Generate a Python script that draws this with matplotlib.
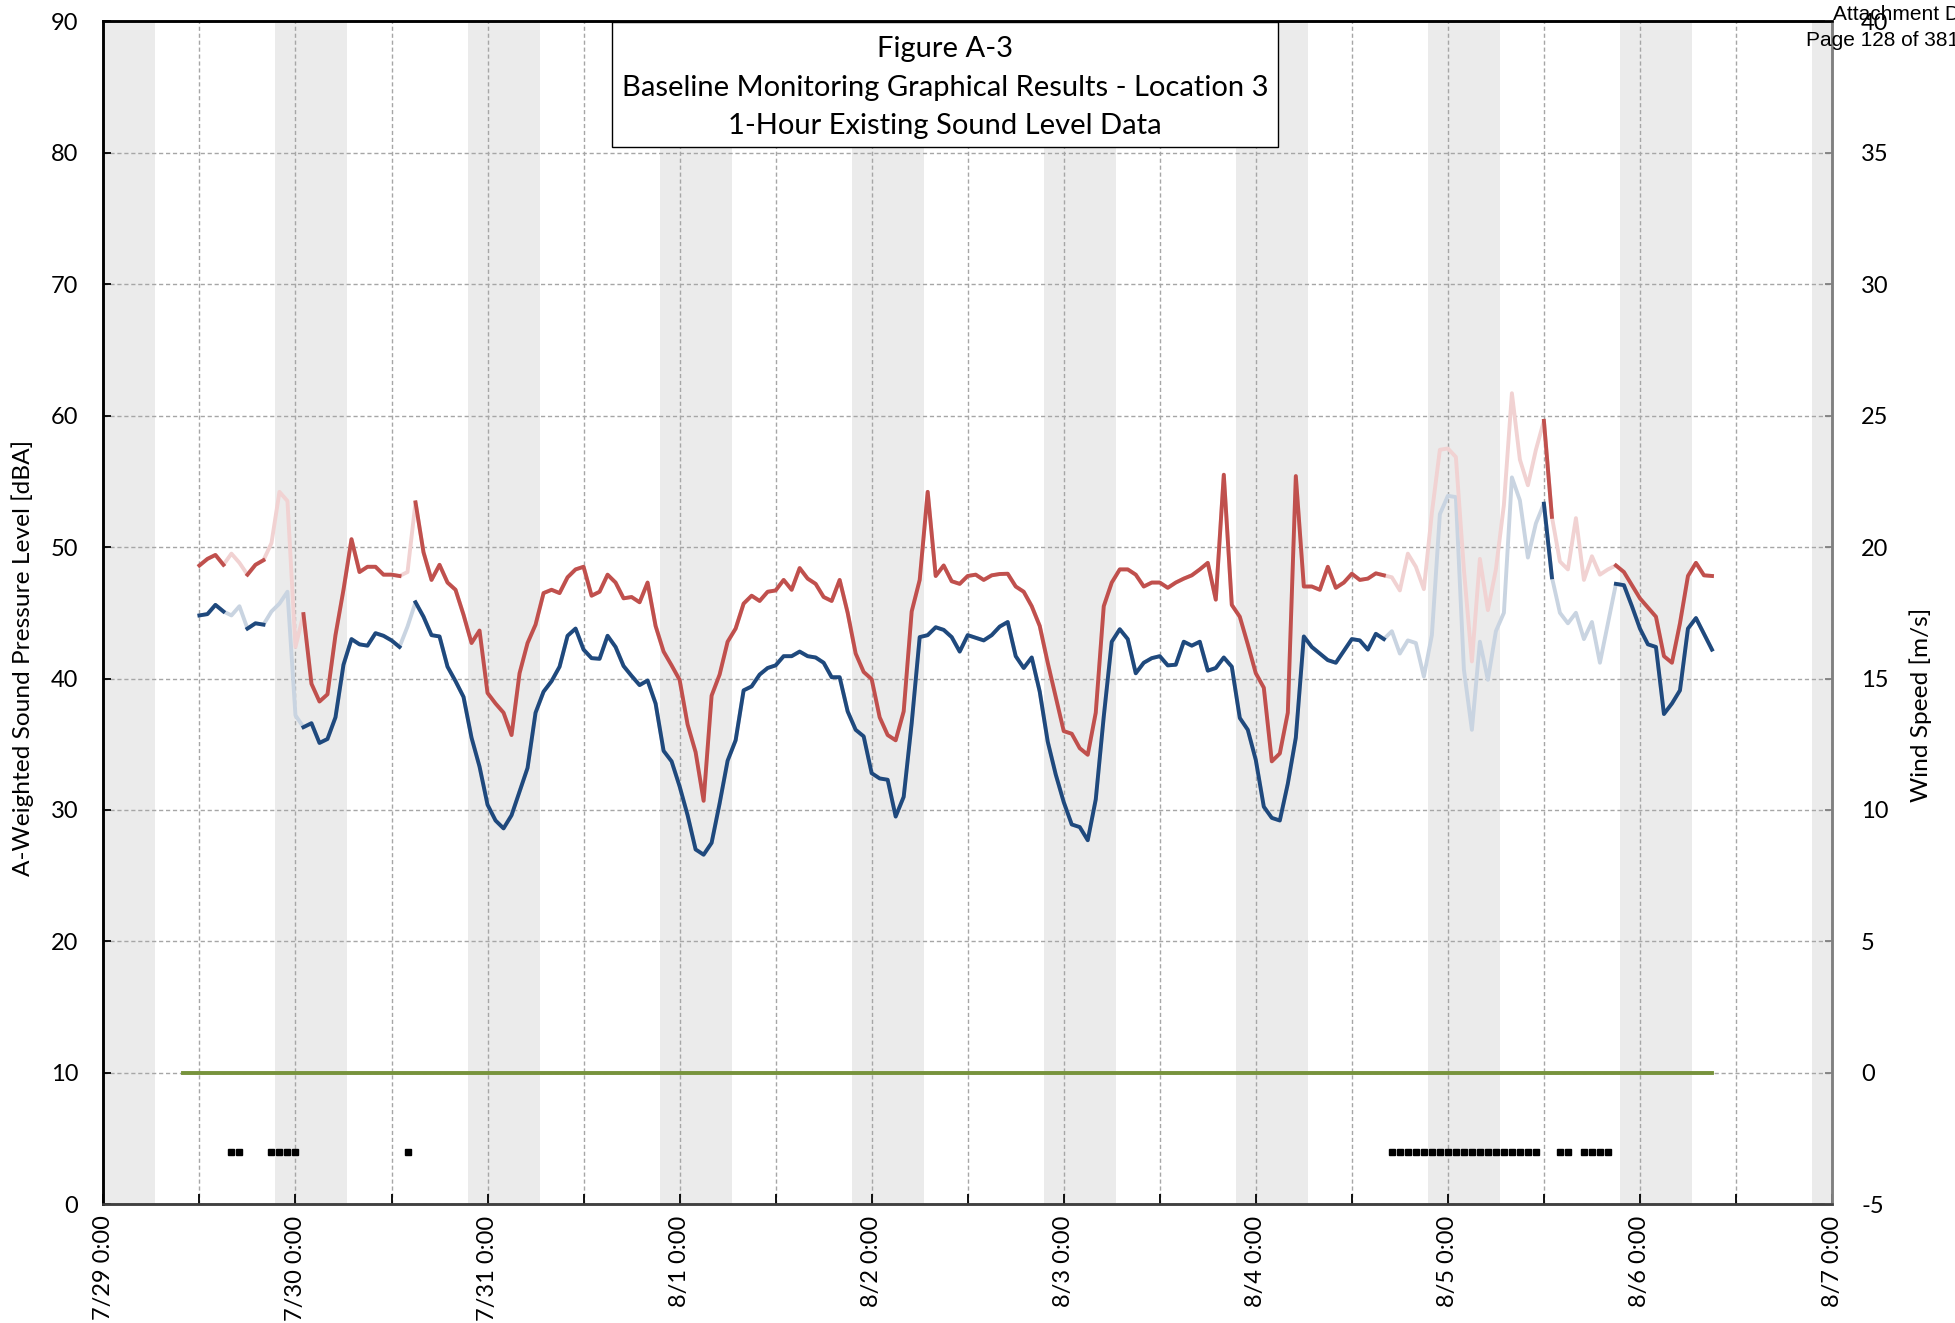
"""
Baseline monitoring - Location 3
1-hour sound levels (Leq / L90) with wind speed, night shading and flagged hours
"""

import numpy as np
import pandas as pd
import matplotlib
matplotlib.use('Agg')
from matplotlib import pyplot as plt
import matplotlib.dates as mdates
from matplotlib.patches import Rectangle
from matplotlib.ticker import FuncFormatter

plt.rcParams['font.family'] = ['Lato', 'DejaVu Sans']
plt.rcParams['axes.unicode_minus'] = False

# ---- data ----
T0 = pd.Timestamp('2019-07-29 00:00')
T_END = pd.Timestamp('2019-08-07 00:00')
SOUND_START = '2019-07-29 12:00'
WIND_START = '2019-07-29 10:00'

# Leq, hourly from 7/29 12:00
leq = [48.6, 49.1, 49.4, 48.65, 49.5, 48.8, 47.9, 48.65, 49.0, 50.3,
       54.2, 53.5, 42.4, 44.9, 39.6, 38.25, 38.8, 43.3, 46.75, 50.6,
       48.1, 48.5, 48.5, 47.9, 47.9, 47.8, 48.1, 53.4, 49.6, 47.5,
       48.65, 47.3, 46.75, 44.85, 42.7, 43.65, 38.9, 38.1, 37.4, 35.7,
       40.4, 42.7, 44.1, 46.5, 46.75, 46.5, 47.7, 48.3, 48.5, 46.3,
       46.6, 47.9, 47.3, 46.1, 46.2, 45.8, 47.3, 44.0, 42.05, 41.0,
       39.9, 36.5, 34.4, 30.7, 38.7, 40.3, 42.8, 43.8, 45.7, 46.3,
       45.9, 46.6, 46.7, 47.5, 46.75, 48.4, 47.6, 47.2, 46.2, 45.9,
       47.5, 45.0, 41.9, 40.5, 39.95, 37.05, 35.7, 35.3, 37.5, 45.1,
       47.5, 54.2, 47.8, 48.6, 47.4, 47.2, 47.8, 47.9, 47.5, 47.85,
       47.95, 47.97, 47.0, 46.6, 45.5, 44.0, 41.2, 38.6, 36.0, 35.8,
       34.7, 34.2, 37.4, 45.5, 47.3, 48.3, 48.3, 47.9, 47.0, 47.3,
       47.3, 46.9, 47.3, 47.6, 47.85, 48.3, 48.8, 46.0, 55.5, 45.6,
       44.7, 42.6, 40.4, 39.3, 33.7, 34.3, 37.4, 55.4, 47.0, 47.0,
       46.75, 48.5, 46.9, 47.3, 47.97, 47.5, 47.6, 48.0, 47.85, 47.7,
       46.7, 49.5, 48.5, 46.8, 52.6, 57.4, 57.5, 56.85, 48.3, 41.3,
       49.1, 45.2, 48.3, 53.2, 61.7, 56.65, 54.7, 57.4, 59.6, 52.3,
       48.9, 48.3, 52.2, 47.5, 49.3, 47.9, 48.3, 48.6, 48.1, 47.1,
       46.1, 45.4, 44.7, 41.7, 41.2, 44.2, 47.8, 48.8, 47.85, 47.8]

# L90, hourly from 7/29 12:00
l90 = [44.8, 44.9, 45.6, 45.1, 44.8, 45.5, 43.8, 44.2, 44.1, 45.1,
       45.7, 46.6, 37.2, 36.3, 36.6, 35.1, 35.4, 37.05, 41.05, 43.0,
       42.6, 42.5, 43.45, 43.25, 42.9, 42.4, 43.95, 45.8, 44.7, 43.3,
       43.2, 40.9, 39.8, 38.6, 35.5, 33.3, 30.4, 29.2, 28.6, 29.6,
       31.4, 33.2, 37.4, 39.0, 39.8, 40.9, 43.25, 43.8, 42.2, 41.55,
       41.5, 43.25, 42.4, 40.95, 40.2, 39.5, 39.85, 38.1, 34.5, 33.7,
       31.8, 29.6, 27.0, 26.6, 27.5, 30.5, 33.75, 35.3, 39.1, 39.4,
       40.3, 40.8, 41.0, 41.7, 41.7, 42.05, 41.7, 41.6, 41.2, 40.1,
       40.1, 37.5, 36.1, 35.6, 32.8, 32.4, 32.3, 29.5, 31.0, 36.6,
       43.15, 43.3, 43.9, 43.7, 43.15, 42.05, 43.3, 43.1, 42.9, 43.3,
       43.95, 44.3, 41.7, 40.8, 41.6, 39.0, 35.2, 32.7, 30.6, 28.9,
       28.7, 27.7, 30.8, 37.1, 42.8, 43.75, 43.0, 40.4, 41.2, 41.55,
       41.7, 41.0, 41.05, 42.8, 42.5, 42.8, 40.6, 40.8, 41.6, 40.9,
       37.0, 36.1, 33.8, 30.25, 29.4, 29.2, 32.0, 35.5, 43.2, 42.4,
       41.9, 41.4, 41.2, 42.1, 43.0, 42.9, 42.2, 43.4, 43.0, 43.6,
       41.9, 42.9, 42.7, 40.15, 43.3, 52.5, 53.9, 53.8, 40.7, 36.1,
       42.8, 39.9, 43.6, 45.0, 55.3, 53.55, 49.2, 51.8, 53.3, 47.7,
       45.0, 44.2, 45.0, 43.0, 44.3, 41.2, 44.2, 47.2, 47.1, 45.5,
       43.8, 42.6, 42.4, 37.3, 38.1, 39.1, 43.8, 44.6, 43.4, 42.2]

# wind speed [m/s], hourly from 7/29 10:00
wind = [0.0] * 192

# flagged (excluded) hours, counted from 7/29 0:00
flag_hours = [16, 17, 21, 22, 23, 24, 38,
              161, 162, 163, 164, 165, 166, 167, 168, 169, 170,
              171, 172, 173, 174, 175, 176, 177, 178, 179,
              182, 183, 185, 186, 187, 188]
flag_level = 4

title_lines = ['Figure A-3',
               'Baseline Monitoring Graphical Results - Location 3',
               '1-Hour Existing Sound Level Data']

# ---- colours ----
RED = '#c0504d'
RED_FADE = '#f1d2d2'
BLUE = '#1f497d'
BLUE_FADE = '#c9d4e1'
GREEN = '#77933c'
NIGHT = '#ebebeb'
GRID = '#a6a6a6'

t_sound = pd.date_range(SOUND_START, periods=len(leq), freq='h')
t_wind = pd.date_range(WIND_START, periods=len(wind), freq='h')
t_flag = T0 + pd.to_timedelta(flag_hours, unit='h')

flagged = t_sound.isin(t_flag)
leq_ok = np.where(flagged, np.nan, leq)
l90_ok = np.where(flagged, np.nan, l90)

fig = plt.figure(figsize=(19.55, 13.23), dpi=100)
ax = fig.add_axes([0.05289, 0.08965, 0.88420, 0.89433])
ax2 = ax.twinx()

# night shading 21:30 - 6:30
for d in pd.date_range('2019-07-28', '2019-08-06', freq='D'):
    ax.axvspan(d + pd.Timedelta(hours=21.5), d + pd.Timedelta(hours=30.5),
               color=NIGHT, lw=0, zorder=0.2)

lw = 2.8
ax.plot(t_sound, l90, color=BLUE_FADE, lw=lw, solid_joinstyle='round', zorder=2)
ax.plot(t_sound, leq, color=RED_FADE, lw=lw, solid_joinstyle='round', zorder=2)
ax.plot(t_sound, l90_ok, color=BLUE, lw=lw, solid_joinstyle='round', zorder=3)
ax.plot(t_sound, leq_ok, color=RED, lw=lw, solid_joinstyle='round', zorder=3)
ax.plot(t_flag, [flag_level] * len(t_flag), 's', color='black', ms=4.5, zorder=4)

ax2.plot(t_wind, wind, color=GREEN, lw=lw, zorder=3)

# axes
ax.set_xlim(T0, T_END)
ax.set_ylim(0, 90)
ax2.set_ylim(-5, 40)
ax.set_yticks(range(0, 91, 10))
ax2.set_yticks(range(-5, 41, 5))

ax.xaxis.set_major_locator(mdates.HourLocator(byhour=[0, 12]))


def fmt_date(x, pos):
    d = mdates.num2date(x)
    if d.hour != 0:
        return ''
    return '{}/{} {}:{:02d}'.format(d.month, d.day, d.hour, d.minute)


ax.xaxis.set_major_formatter(FuncFormatter(fmt_date))

ax.set_axisbelow(True)
ax.grid(True, color=GRID, ls=(0, (3, 2)), lw=1.0)

ax.tick_params(axis='x', direction='in', length=7, width=1.3, labelsize=17,
               labelrotation=90, pad=8)
ax.tick_params(axis='y', direction='in', length=6, width=1.3, labelsize=17, pad=18)
ax2.tick_params(axis='y', direction='in', length=5, width=1.3, color='#808080',
                labelsize=17, pad=21)

for a in (ax, ax2):
    a.spines['left'].set_color('black')
    a.spines['top'].set_color('black')
    a.spines['bottom'].set_color('#404040')
    a.spines['right'].set_color('#808080')
    for s in a.spines.values():
        s.set_linewidth(1.8)

# title box
ax.add_patch(Rectangle((0.294, 0.894), 0.3855, 0.105, transform=ax.transAxes,
                       facecolor='white', edgecolor='black', lw=1.0, zorder=5))
for txt, yy in zip(title_lines, [0.9765, 0.9435, 0.911]):
    ax.text(0.487, yy, txt, transform=ax.transAxes, ha='center', va='center',
            fontsize=21, zorder=6)

fig.text(0.01146, 0.5026, 'A-Weighted Sound Pressure Level [dBA]', rotation=90,
         ha='center', va='center', fontsize=17.6)
fig.text(0.98261, 0.4675, 'Wind Speed [m/s]', rotation=90,
         ha='center', va='center', fontsize=17.6)

# page stamp
fig.text(0.9376, 0.9849, 'Attachment D', ha='left', va='baseline',
         fontsize=15, family=['Liberation Sans', 'DejaVu Sans'])
fig.text(0.9238, 0.9651, 'Page 128 of 381', ha='left', va='baseline',
         fontsize=15, family=['Liberation Sans', 'DejaVu Sans'])

fig.savefig('out.png', dpi=100)
